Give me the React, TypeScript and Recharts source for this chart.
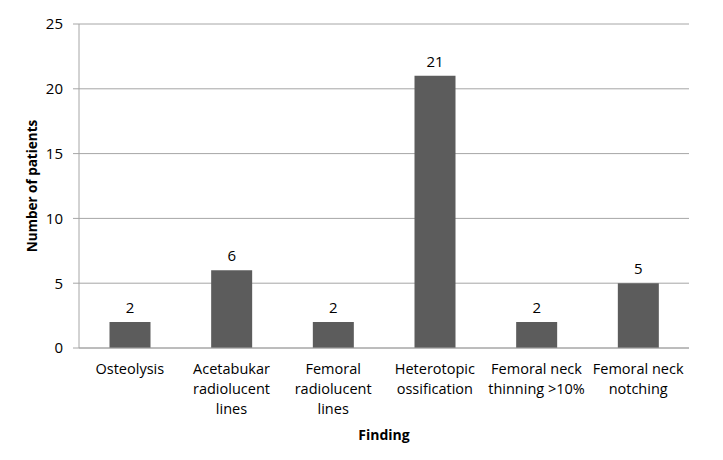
import { BarChart, Bar, XAxis, YAxis, CartesianGrid, LabelList } from "recharts";

// categories as wrapped in the original (line breaks marked with \n)
const findings = [
    "Osteolysis",
    "Acetabukar\nradiolucent\nlines",
    "Femoral\nradiolucent\nlines",
    "Heterotopic\nossification",
    "Femoral neck\nthinning >10%",
    "Femoral neck\nnotching",
];
const patients = [2, 6, 2, 21, 2, 5];
const yTicks = [0, 5, 10, 15, 20, 25];

const data = findings.map((f, i) => ({ finding: f, patients: patients[i] }));

const font = "'Open Sans', sans-serif";
const textColor = "#000";

function CategoryTick(props: any) {
    const { x, y, payload } = props;
    const lines = String(payload.value).split("\n");
    return (
        <text x={x} y={y} textAnchor="middle" fontFamily={font} fontSize={14.5} fill={textColor}>
            {lines.map((l, i) => (
                <tspan key={i} x={x} dy={i === 0 ? 18 : 20}>{l}</tspan>
            ))}
        </text>
    );
}

export default function App() {
    return (
        <div style={{ margin: -8, width: 723, height: 460, background: "#fff" }}>
            <BarChart
                width={723}
                height={460}
                data={data}
                margin={{ top: 24, right: 34, bottom: 32, left: 0 }}
                barCategoryGap="30%"
            >
                <CartesianGrid vertical={false} stroke="#a6a6a6" strokeWidth={1} />
                <XAxis
                    dataKey="finding"
                    height={80}
                    interval={0}
                    tickLine={false}
                    axisLine={{ stroke: "#a6a6a6" }}
                    tick={<CategoryTick />}
                    label={{ value: "Finding", position: "insideBottom", offset: -12, fontFamily: font, fontSize: 14, fontWeight: "bold", fill: textColor }}
                />
                <YAxis
                    width={79}
                    domain={[0, 25]}
                    ticks={yTicks}
                    tickLine={{ stroke: "#a6a6a6" }}
                    tickSize={6}
                    axisLine={{ stroke: "#a6a6a6" }}
                    tick={{ fontFamily: font, fontSize: 15, fill: textColor }}
                    tickMargin={10}
                    label={{ value: "Number of patients", angle: -90, position: "insideLeft", offset: 32, style: { textAnchor: "middle" }, fontFamily: font, fontSize: 13.5, fontWeight: "bold", fill: textColor }}
                />
                <Bar dataKey="patients" fill="#5c5c5c" isAnimationActive={false}>
                    <LabelList dataKey="patients" position="top" offset={9} fontFamily={font} fontSize={15} fill={textColor} />
                </Bar>
            </BarChart>
        </div>
    );
}
